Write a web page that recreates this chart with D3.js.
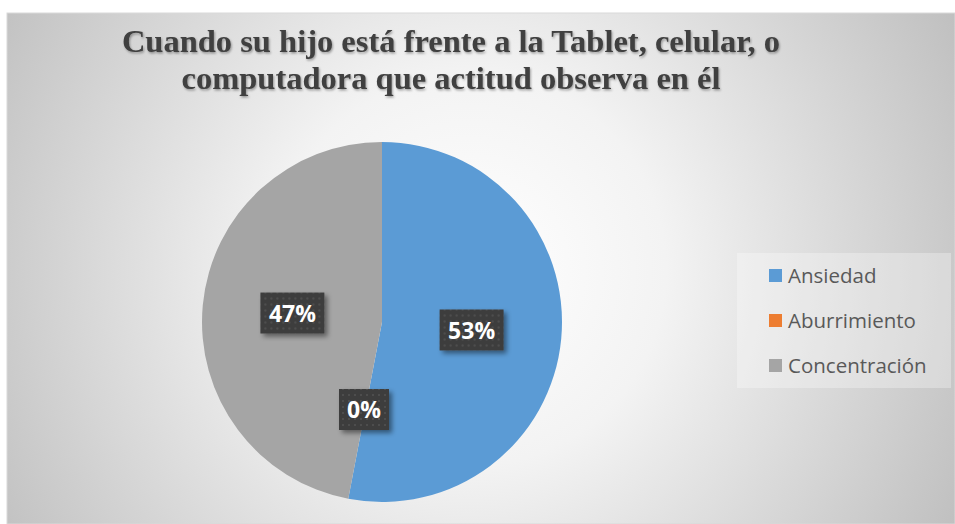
<!DOCTYPE html>
<html>
<head>
<meta charset="utf-8">
<script src="https://cdn.jsdelivr.net/npm/d3@7"></script>
<style>
  body { margin: 0; background: #fff; }
  svg { display: block; }
</style>
</head>
<body>
<div id="chart"></div>
<script>
// data
var categories = ["Ansiedad", "Aburrimiento", "Concentración"];
var values = [53, 0, 47];
var labels = ["53%", "0%", "47%"];
var colors = ["#5b9bd5", "#ed7d31", "#a5a5a5"];
var titleLines = ["Cuando su hijo está frente a la Tablet, celular, o",
                  "computadora que actitud observa en él"];

var W = 955, H = 524;
var svg = d3.select("#chart").append("svg")
    .attr("width", W)
    .attr("height", H);

var defs = svg.append("defs");

var grad = defs.append("radialGradient")
    .attr("id", "bg")
    .attr("gradientUnits", "userSpaceOnUse")
    .attr("cx", 470).attr("cy", 270).attr("r", 560);
grad.append("stop").attr("offset", "0%").attr("stop-color", "#ffffff");
grad.append("stop").attr("offset", "35%").attr("stop-color", "#f3f3f3");
grad.append("stop").attr("offset", "100%").attr("stop-color", "#bebebe");

var pat = defs.append("pattern")
    .attr("id", "dots")
    .attr("patternUnits", "userSpaceOnUse")
    .attr("width", 6).attr("height", 6);
pat.append("rect").attr("width", 6).attr("height", 6).attr("fill", "#3e3e3e");
pat.append("circle").attr("cx", 3).attr("cy", 3).attr("r", 0.9).attr("fill", "#555");

var shadow = defs.append("filter").attr("id", "shadow")
    .attr("x", "-20%").attr("y", "-20%").attr("width", "150%").attr("height", "160%");
shadow.append("feDropShadow")
    .attr("dx", 3).attr("dy", 3).attr("stdDeviation", 2.5)
    .attr("flood-color", "#000").attr("flood-opacity", 0.45);

var tshadow = defs.append("filter").attr("id", "tshadow");
tshadow.append("feDropShadow")
    .attr("dx", 1).attr("dy", 1.5).attr("stdDeviation", 1)
    .attr("flood-color", "#000").attr("flood-opacity", 0.35);

// chart area
svg.append("rect")
    .attr("x", 7).attr("y", 13)
    .attr("width", W - 7).attr("height", H - 13)
    .attr("fill", "url(#bg)")
    .attr("stroke", "#d9d9d9");

// title
svg.append("text")
    .attr("text-anchor", "middle")
    .attr("font-family", "'Liberation Serif', 'Times New Roman', serif")
    .attr("font-weight", "bold")
    .attr("font-size", 32.5)
    .attr("fill", "#404040")
    .attr("filter", "url(#tshadow)")
    .selectAll("tspan")
    .data(titleLines)
    .enter()
    .append("tspan")
        .attr("x", 451)
        .attr("y", function(d, i) { return 52 + i * 37; })
        .text(function(d) { return d; });

// pie
var cx = 382, cy = 322, radius = 180;
var pie = d3.pie().sort(null).value(function(d) { return d; });
var arc = d3.arc().innerRadius(0).outerRadius(radius);
var arcs = pie(values);

var g = svg.append("g")
    .attr("transform", "translate(" + cx + "," + cy + ")");

g.selectAll("path.slice")
    .data(arcs)
    .enter()
    .append("path")
    .attr("class", "slice")
    .attr("d", arc)
    .attr("fill", function(d, i) { return colors[i]; });

// data labels
var labelArc = d3.arc().innerRadius(radius * 0.5).outerRadius(radius * 0.5);
var boxW = { "53%": 64, "0%": 50, "47%": 64 };
var lab = g.selectAll("g.lab")
    .data(arcs)
    .enter()
    .append("g")
    .attr("class", "lab")
    .attr("transform", function(d, i) {
        var c = labelArc.centroid(d);
        if (d.value === 0) { c = [-18, 88]; }
        return "translate(" + c[0] + "," + c[1] + ")";
    });

lab.append("rect")
    .attr("x", function(d, i) { return -boxW[labels[i]] / 2; })
    .attr("y", -21)
    .attr("width", function(d, i) { return boxW[labels[i]]; })
    .attr("height", 41)
    .attr("fill", "url(#dots)")
    .attr("filter", "url(#shadow)");

lab.append("text")
    .attr("text-anchor", "middle")
    .attr("dy", "0.36em")
    .attr("font-family", "'Open Sans', 'Noto Sans', sans-serif")
    .attr("font-weight", "bold")
    .attr("font-size", 23)
    .attr("fill", "#ffffff")
    .text(function(d, i) { return labels[i]; });

// legend
svg.append("rect")
    .attr("x", 737).attr("y", 253)
    .attr("width", 214).attr("height", 135)
    .attr("fill", "#ffffff")
    .attr("fill-opacity", 0.3);

var leg = svg.selectAll("g.leg")
    .data(categories)
    .enter()
    .append("g")
    .attr("class", "leg")
    .attr("transform", function(d, i) { return "translate(769," + (276 + i * 45) + ")"; });

leg.append("rect")
    .attr("x", 0).attr("y", -7)
    .attr("width", 13).attr("height", 13)
    .attr("fill", function(d, i) { return colors[i]; });

leg.append("text")
    .attr("x", 19)
    .attr("dy", "0.35em")
    .attr("font-family", "'Open Sans', 'Noto Sans', sans-serif")
    .attr("font-size", 20.5)
    .attr("fill", "#595959")
    .text(function(d) { return d; });
</script>
</body>
</html>
